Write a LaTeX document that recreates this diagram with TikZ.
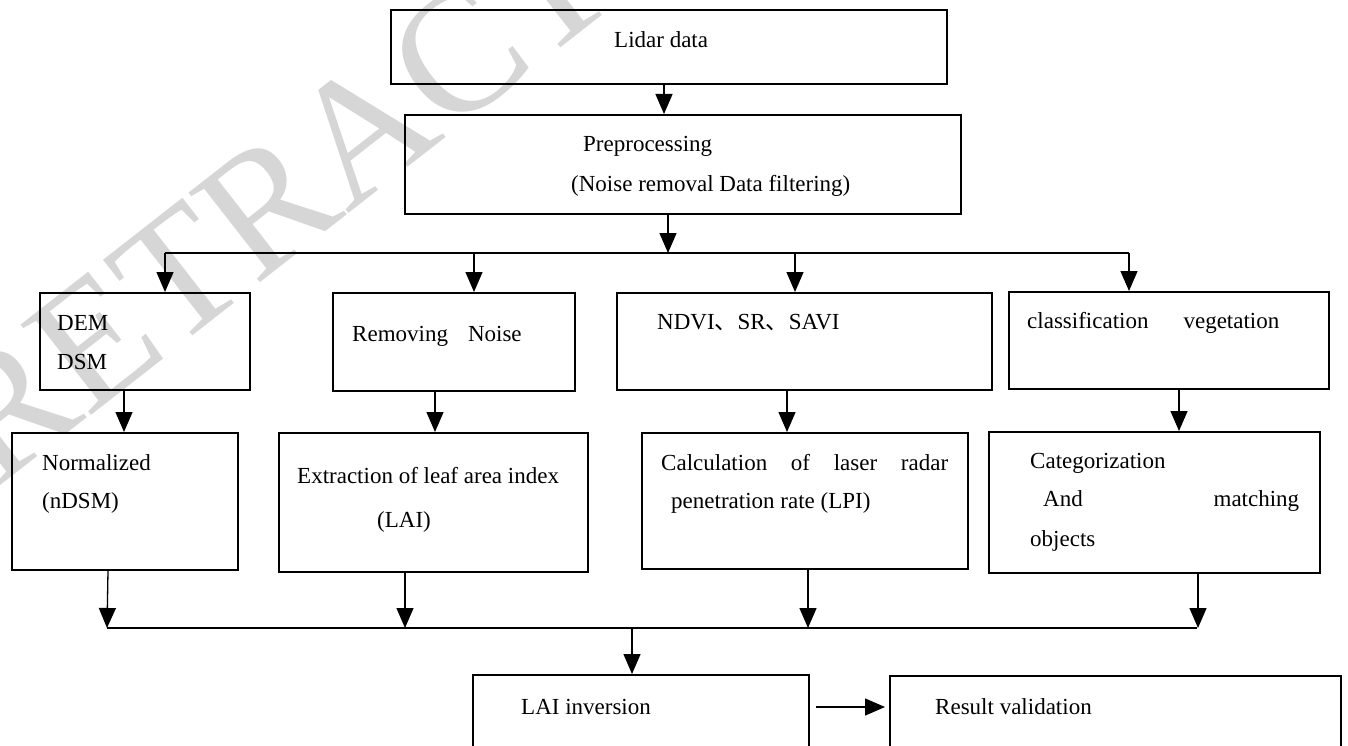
\documentclass[tikz,border=0pt]{standalone}
\usepackage{fontspec}
\setmainfont{Liberation Serif}
\newfontfamily\cjk{Noto Sans CJK SC}
\usetikzlibrary{arrows.meta}

\tikzset{
  box/.style={draw, line width=2pt, inner sep=0pt, anchor=north west},
  txt/.style={anchor=west, inner sep=0pt},
  link/.style={line width=1.3pt},
  arr/.style={line width=1.3pt, -{Triangle[length=20pt,width=17pt]}},
}

\begin{document}
\begin{tikzpicture}[x=1pt,y=1pt,yscale=-1,font=\fontsize{23}{27}\selectfont]
\useasboundingbox (0,0) rectangle (1348,746);
\clip (0,0) rectangle (1348,746);

% Watermark
\node[anchor=base west, rotate=38, inner sep=0pt, text=black!16, font=\fontsize{175}{175}\selectfont] (wm) at (-5,490) {RETRACTED};

%Shape: Rectangles, top
\node[box, minimum width=556, minimum height=74] (lidar) at (390,9) {};
\node[box, minimum width=556, minimum height=99] (pre) at (404,114) {};

%Shape: Rectangles, first row
\node[box, minimum width=210, minimum height=97] (dem) at (39,292) {};
\node[box, minimum width=242, minimum height=98] (rmv) at (332,292) {};
\node[box, minimum width=375, minimum height=97] (ndvi) at (616,292) {};
\node[box, minimum width=320, minimum height=97] (cls) at (1008,291) {};

%Shape: Rectangles, second row
\node[box, minimum width=226, minimum height=137] (nrm) at (11,432) {};
\node[box, minimum width=309, minimum height=139] (ext) at (278,432) {};
\node[box, minimum width=326, minimum height=136] (calc) at (641,432) {};
\node[box, minimum width=331, minimum height=141] (cat) at (988,431) {};

%Shape: Rectangles, bottom
\node[box, minimum width=336, minimum height=90] (lai) at (472,674) {};
\node[box, minimum width=451, minimum height=90] (res) at (889,675) {};

% Text Node
\node[txt] (t-lidar) at (614,40) {Lidar data};
\node[txt] (t-pre1) at (583,146) {Preprocessing};
\node[txt] (t-pre2) at (571,186) {(Noise removal Data filtering)};

% Text Node
\node[txt] (t-dem) at (57,323) {DEM};
\node[txt] (t-dsm) at (57,362) {DSM};
\node[txt] (t-rmv) at (352,336) {Removing\hspace{20pt}Noise};
\node[txt] (t-ndvi) at (657,323) {NDVI{\cjk 、}SR{\cjk 、}SAVI};
\node[txt] (t-cls) at (1027,323) {classification\hspace{35pt}vegetation};

% Text Node
\node[txt] (t-nrm1) at (42,463) {Normalized};
\node[txt] (t-nrm2) at (42,503) {(nDSM)};
\node[txt] (t-ext1) at (297,476) {Extraction of leaf area index};
\node[txt] (t-ext2) at (377,522) {(LAI)};
\node[txt] (t-calc1) at (661,463) {\makebox[287pt][s]{Calculation of laser radar}};
\node[txt] (t-calc2) at (671,503) {penetration rate (LPI)};
\node[txt] (t-cat1) at (1030,463) {Categorization};
\node[txt] (t-cat2) at (1043,501) {\makebox[256pt][s]{And matching}};
\node[txt] (t-cat3) at (1030,541) {objects};

% Text Node
\node[txt] (t-lai) at (521,707) {LAI inversion};
\node[txt] (t-res) at (935,707) {Result validation};

%Straight Lines, top
\coordinate (bus1) at (165,253);
\coordinate (bus1e) at (1129,253);
\draw[arr] ([xshift=-5pt]lidar.south) -- ([xshift=-19pt]pre.north);
\draw[arr] ([xshift=-15pt]pre.south) -- ([xshift=-15pt]pre.south |- bus1);
\draw[link] (bus1) -- (bus1e);
\draw[arr] (bus1) -- (bus1 |- dem.north);
\draw[arr] ([xshift=20pt]rmv.north |- bus1) -- ([xshift=20pt]rmv.north);
\draw[arr] ([xshift=-9.5pt]ndvi.north |- bus1) -- ([xshift=-9.5pt]ndvi.north);
\draw[arr] (bus1e) -- (bus1e |- cls.north);

%Straight Lines, between rows
\draw[arr] ([xshift=-21pt]dem.south) -- ([xshift=-21pt]dem.south |- nrm.north);
\draw[arr] ([xshift=-19pt]rmv.south) -- ([xshift=-19pt]rmv.south |- ext.north);
\draw[arr] ([xshift=-17.5pt]ndvi.south) -- ([xshift=-17.5pt]ndvi.south |- calc.north);
\draw[arr] ([xshift=10pt]cls.south) -- ([xshift=10pt]cls.south |- cat.north);

%Straight Lines, bottom
\coordinate (bus2) at (107,628);
\coordinate (bus2e) at (1197,628);
\draw[link] (bus2) -- (bus2e);
\draw[arr] ([xshift=-17pt]nrm.south) -- (bus2);
\draw[arr] ([xshift=-28.5pt]ext.south) -- ([xshift=-28.5pt]ext.south |- bus2);
\draw[arr] ([xshift=3pt]calc.south) -- ([xshift=3pt]calc.south |- bus2);
\draw[arr] ([xshift=43.5pt]cat.south) -- ([xshift=43.5pt]cat.south |- bus2);
\draw[arr] ([xshift=-9pt]lai.north |- bus2) -- ([xshift=-9pt]lai.north);
\draw[arr, shorten <=6pt, shorten >=4pt] (t-lai -| lai.east) -- (t-lai -| res.west);

\end{tikzpicture}
\end{document}
